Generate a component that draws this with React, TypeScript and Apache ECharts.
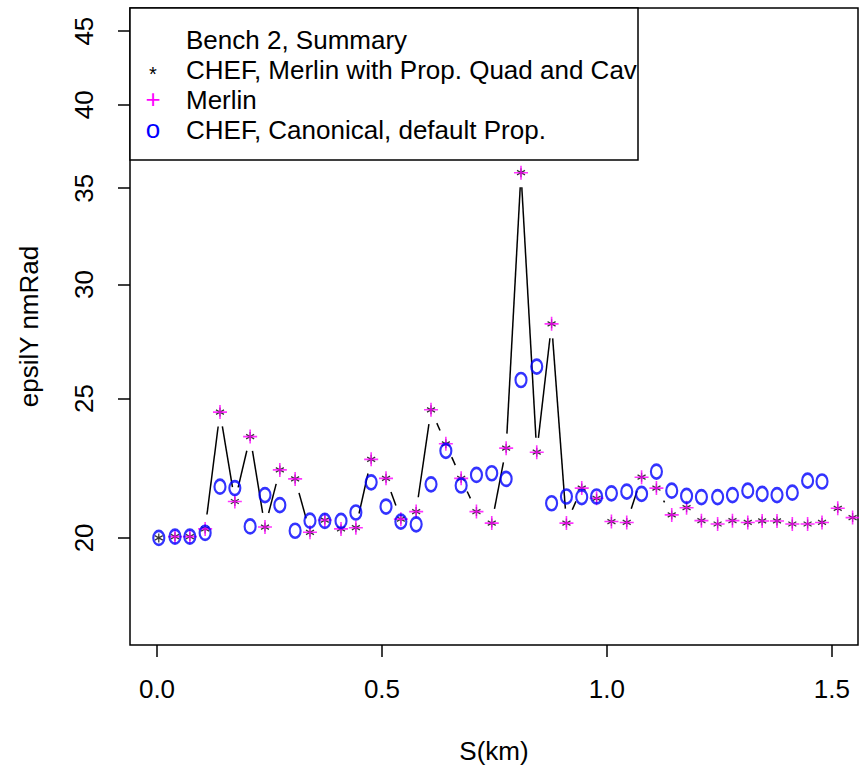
import React, { useEffect, useRef } from 'react';
import * as echarts from 'echarts';

// S positions (km) of the lattice points
const sKm = [0.004, 0.040, 0.073, 0.107, 0.140, 0.173, 0.207, 0.240, 0.273, 0.307,
  0.340, 0.373, 0.409, 0.442, 0.476, 0.509, 0.542, 0.576, 0.609, 0.642,
  0.676, 0.710, 0.744, 0.776, 0.809, 0.844, 0.877, 0.910, 0.944, 0.977,
  1.010, 1.044, 1.077, 1.110, 1.144, 1.177, 1.210, 1.246, 1.279, 1.313,
  1.345, 1.378, 1.412, 1.446, 1.478, 1.513, 1.546];

// CHEF, Merlin with Prop. Quad and Cav (black *)
const chefMerlinEps = [20.0, 20.04, 20.04, 20.29, 24.46, 21.20, 23.52, 20.35, 22.30, 21.98,
  20.18, 20.58, 20.29, 20.33, 22.68, 22.00, 20.61, 20.86, 24.55, 23.25,
  22.00, 20.86, 20.48, 23.09, 35.88, 22.94, 28.17, 20.48, 21.66, 21.31,
  20.53, 20.50, 22.04, 21.66, 20.75, 20.99, 20.56, 20.45, 20.56, 20.50,
  20.55, 20.55, 20.45, 20.45, 20.50, 20.97, 20.66];

// Merlin (magenta +)
const merlinEps = [null, 20.04, 20.04, 20.29, 24.46, 21.20, 23.52, 20.35, 22.30, 21.98,
  20.18, 20.58, 20.29, 20.33, 22.68, 22.00, 20.61, 20.86, 24.55, 23.25,
  22.00, 20.86, 20.48, 23.09, 35.88, 22.94, 28.17, 20.48, 21.66, 21.31,
  20.53, 20.50, 22.04, 21.66, 20.75, 20.99, 20.56, 20.45, 20.56, 20.50,
  20.55, 20.55, 20.45, 20.45, 20.50, 20.97, 20.66];

// CHEF, Canonical, default Prop. (blue o)
const canonicalEps = [20.0, 20.04, 20.04, 20.16, 21.71, 21.66, 20.37, 21.42, 21.08, 20.23,
  20.56, 20.55, 20.55, 20.83, 21.86, 21.03, 20.53, 20.44, 21.79, 22.99,
  21.75, 22.12, 22.18, 21.98, 25.75, 26.31, 21.14, 21.37, 21.35, 21.37,
  21.48, 21.54, 21.46, 22.24, 21.57, 21.39, 21.35, 21.35, 21.42, 21.57,
  21.46, 21.42, 21.50, 21.92, 21.89];

const yTicks = [20, 25, 30, 35, 40, 45];
const xTicks = [0, 0.5, 1.0, 1.5];
const legendTitle = 'Bench 2, Summary';
const legendNames = ['CHEF, Merlin with Prop. Quad and Cav', 'Merlin', 'CHEF, Canonical, default Prop.'];
const legendGlyphs = ['*', '+', 'o'];
const legendColors = ['#000000', '#ff00ff', '#0000ff'];

const FONT = 'Liberation Sans, Arial, Helvetica, sans-serif';
const FS = 26;

export default function App() {
  const ref = useRef<HTMLDivElement>(null);
  useEffect(() => {
    document.body.style.margin = '0';
    const chart = echarts.init(ref.current!, null, { renderer: 'svg' });
    const ln = Math.log;
    const segs: number[][] = [];
    for (let i = 0; i < sKm.length - 1; i++) {
      segs.push([sKm[i], ln(chefMerlinEps[i]), sKm[i + 1], ln(chefMerlinEps[i + 1])]);
    }
    const GAP = 14.5;
    const textStyle = { fontSize: FS, fontFamily: FONT, color: '#000' };

    const legendGraphics: any[] = [
      { type: 'rect', shape: { x: 130, y: 8, width: 508, height: 152 }, style: { fill: '#fff', stroke: '#000', lineWidth: 1.5 }, z: 100 },
      { type: 'text', x: 186, y: 40, style: { text: legendTitle, fontSize: FS, fontFamily: FONT, fill: '#000', verticalAlign: 'middle', align: 'left' }, z: 101 },
    ];
    legendNames.forEach((n, i) => {
      legendGraphics.push({ type: 'text', x: 186, y: 70 + 30 * i, style: { text: n, fontSize: FS, fontFamily: FONT, fill: '#000', verticalAlign: 'middle', align: 'left' }, z: 101 });
      legendGraphics.push({ type: 'text', x: 153, y: (i === 0 ? 74 : 69) + 30 * i, style: { text: legendGlyphs[i], fontSize: i === 0 ? 20 : FS, fontFamily: FONT, fill: legendColors[i], verticalAlign: 'middle', align: 'center' }, z: 101 });
    });

    const option: any = {
      animation: false,
      grid: { left: 130, top: 8, right: 1, bottom: 128, show: true, borderColor: '#000', borderWidth: 1.5 },
      xAxis: {
        type: 'value', min: -0.06, max: 1.558,
        axisLine: { show: false, onZero: false },
        splitLine: { show: false },
        axisTick: { show: true, customValues: xTicks, length: 12, lineStyle: { color: '#000', width: 1.5 } },
        axisLabel: { show: true, customValues: xTicks, formatter: (v: number) => v.toFixed(1), margin: 31, ...textStyle },
        name: 'S(km)', nameLocation: 'middle', nameGap: 93, nameTextStyle: textStyle,
      },
      yAxis: {
        type: 'value', min: ln(16.85), max: ln(46.7),
        axisLine: { show: false, onZero: false },
        splitLine: { show: false },
        axisTick: { show: true, customValues: yTicks.map(ln), length: 12, lineStyle: { color: '#000', width: 1.5 } },
        axisLabel: { show: true, customValues: yTicks.map(ln), rotate: 90, formatter: (v: number) => String(Math.round(Math.exp(v))), margin: 33, ...textStyle },
        name: 'epsilY nmRad', nameLocation: 'middle', nameRotate: 90, nameGap: 88, nameTextStyle: textStyle,
      },
      graphic: legendGraphics,
      series: [
        {
          type: 'custom', name: 'line', data: segs, encode: { x: [0, 2], y: [1, 3] }, z: 1, silent: true,
          renderItem: (params: any, api: any) => {
            const p0 = api.coord([api.value(0), api.value(1)]);
            const p1 = api.coord([api.value(2), api.value(3)]);
            const dx = p1[0] - p0[0], dy = p1[1] - p0[1];
            const L = Math.hypot(dx, dy);
            if (L <= 2 * GAP) return { type: 'group', children: [] };
            const ux = dx / L, uy = dy / L;
            return {
              type: 'line',
              shape: { x1: p0[0] + ux * GAP, y1: p0[1] + uy * GAP, x2: p1[0] - ux * GAP, y2: p1[1] - uy * GAP },
              style: { stroke: '#000', lineWidth: 1.5 },
            };
          },
        },
        {
          type: 'scatter', name: legendNames[0], z: 2,
          data: sKm.map((s, i) => [s, ln(chefMerlinEps[i])]),
          symbol: 'path://M0,-5L0,5M-4.33,-2.5L4.33,2.5M-4.33,2.5L4.33,-2.5',
          symbolSize: [8, 9],
          itemStyle: { color: '#000', borderColor: '#000', borderWidth: 1.3 },
        },
        {
          type: 'scatter', name: legendNames[1], z: 3,
          data: sKm.map((s, i) => merlinEps[i] == null ? null : [s, ln(merlinEps[i] as number)]).filter((d) => d !== null),
          symbol: 'path://M0,-6L0,6M-6,0L6,0',
          symbolSize: 14,
          itemStyle: { color: '#ff00ff', borderColor: '#ff00ff', borderWidth: 1.6 },
        },
        {
          type: 'scatter', name: legendNames[2], z: 4,
          data: canonicalEps.map((v, i) => [sKm[i], ln(v)]),
          symbol: 'path://M0,-7A5,7 0 1 1 0,7A5,7 0 1 1 0,-7Z',
          symbolSize: [11, 14],
          itemStyle: { color: 'rgba(0,0,0,0)', borderColor: '#0000ff', borderWidth: 2.4 },
        },
      ],
    };
    chart.setOption(option);
    return () => chart.dispose();
  }, []);
  return <div ref={ref} style={{ width: 859, height: 773 }} />;
}
